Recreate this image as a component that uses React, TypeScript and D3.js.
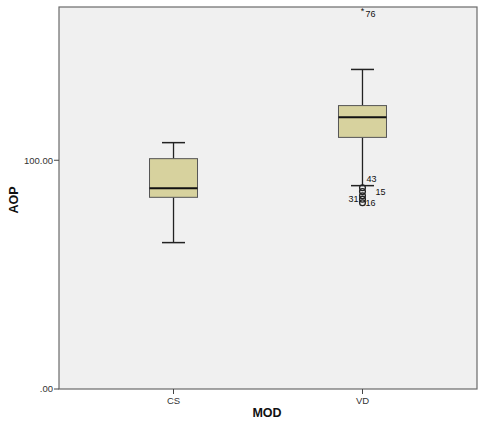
import React from "react";
import * as d3 from "d3";

const categories = ["CS", "VD"];
const whiskerLow = [64, 88.9];
const q1 = [83.8, 110];
const medians = [87.8, 118.8];
const q3 = [100.7, 123.9];
const whiskerHigh = [107.7, 139.7];
const outlierValues = [88.0, 86.3, 84.5, 83.0, 81.4];
const outlierLabels = ["43", "15", "", "31", "16"];
const extremeValue = 166.5;
const extremeLabel = "76";
const yTicks = [0, 100];
const yTickLabels = [".00", "100.00"];

export default function App() {
  const W = 494, H = 434;
  const left = 59, right = 477, top = 7, bottom = 389;
  const y = d3.scaleLinear().domain([0, 167]).range([bottom, top]);
  const x = d3.scalePoint<string>().domain(categories).range([left, right]).padding(0.606);
  const boxW = 48;
  const capW = 23;
  const tickColor = "#444";
  const font = "Liberation Sans, Arial, sans-serif";
  return (
    <svg width={W} height={H} style={{ position: "absolute", left: 0, top: 0 }}>
      <rect x={0} y={0} width={W} height={H} fill="#fff" />
      <rect x={left} y={top} width={right - left} height={bottom - top} fill="#f0f0f0" stroke="#6a6a6a" strokeWidth={1.2} />
      {yTicks.map((t, i) => (
        <g key={t}>
          <line x1={left - 5} x2={left} y1={y(t)} y2={y(t)} stroke={tickColor} />
          <text x={left - 6} y={y(t)} dy="0.35em" textAnchor="end" fontSize={9.5} fontFamily={font} fill="#333">
            {yTickLabels[i]}
          </text>
        </g>
      ))}
      {categories.map((c) => (
        <g key={c}>
          <line x1={x(c)} x2={x(c)} y1={bottom} y2={bottom + 5} stroke={tickColor} />
          <text x={x(c)} y={bottom + 15} textAnchor="middle" fontSize={9.5} fontFamily={font} fill="#333">
            {c}
          </text>
        </g>
      ))}
      <text x={267} y={417} textAnchor="middle" fontSize={12.5} fontWeight="bold" fontFamily={font} fill="#111">MOD</text>
      <text transform={`translate(18,200) rotate(-90)`} textAnchor="middle" fontSize={12.5} fontWeight="bold" fontFamily={font} fill="#111">AOP</text>
      {categories.map((c, i) => {
        const cx = x(c) as number;
        return (
          <g key={c}>
            <line x1={cx} x2={cx} y1={y(whiskerHigh[i])} y2={y(q3[i])} stroke="#222" strokeWidth={1.3} />
            <line x1={cx} x2={cx} y1={y(q1[i])} y2={y(whiskerLow[i])} stroke="#222" strokeWidth={1.3} />
            <line x1={cx - capW / 2} x2={cx + capW / 2} y1={y(whiskerHigh[i])} y2={y(whiskerHigh[i])} stroke="#222" strokeWidth={1.5} />
            <line x1={cx - capW / 2} x2={cx + capW / 2} y1={y(whiskerLow[i])} y2={y(whiskerLow[i])} stroke="#222" strokeWidth={1.5} />
            <rect x={cx - boxW / 2} y={y(q3[i])} width={boxW} height={y(q1[i]) - y(q3[i])} fill="#d7d29e" stroke="#555" strokeWidth={1} />
            <line x1={cx - boxW / 2} x2={cx + boxW / 2} y1={y(medians[i])} y2={y(medians[i])} stroke="#111" strokeWidth={2} />
          </g>
        );
      })}
      {outlierValues.map((v, i) => (
        <circle key={i} cx={x("VD")} cy={y(v)} r={2.9} fill="none" stroke="#222" strokeWidth={1.3} />
      ))}
      {outlierLabels.map((lab, i) => {
        if (!lab) return null;
        const cx = x("VD") as number;
        const pos: Record<string, [number, number, string]> = {
          "43": [4, -6, "start"],
          "15": [13, 3, "start"],
          "31": [-4, 3, "end"],
          "16": [3, 3, "start"],
        };
        const [dx, dy, anchor] = pos[lab];
        return (
          <text key={lab} x={cx + dx} y={y(outlierValues[i]) + dy} textAnchor={anchor} fontSize={9} fontFamily={font} fill="#111">
            {lab}
          </text>
        );
      })}
      <text x={x("VD")} y={y(extremeValue) + 6} textAnchor="middle" fontSize={9} fontFamily={font} fill="#111">*</text>
      <text x={(x("VD") as number) + 3} y={y(extremeValue) + 9} fontSize={9} fontFamily={font} fill="#111">{extremeLabel}</text>
    </svg>
  );
}
